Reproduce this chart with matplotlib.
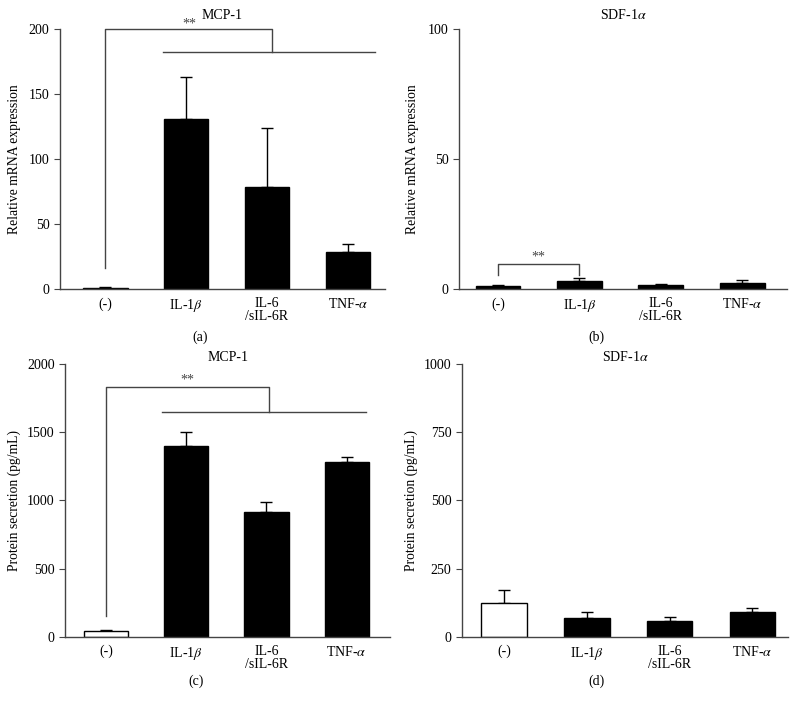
import numpy as np
import matplotlib
matplotlib.use("Agg")
import matplotlib.pyplot as plt

plt.rcParams['font.family'] = ['Liberation Serif', 'DejaVu Serif']
plt.rcParams['mathtext.fontset'] = 'stix'
plt.rcParams['font.size'] = 10

categories = ["(-)", "IL-1$\\beta$", "IL-6\n/sIL-6R", "TNF-$\\alpha$"]

# 数值
mrna_mcp1 = [1.0, 130.8, 78.7, 28.7]
mrna_mcp1_err = [0.5, 32.0, 44.9, 5.7]
mrna_sdf1 = [1.2, 3.1, 1.4, 2.2]
mrna_sdf1_err = [0.2, 1.0, 0.5, 1.1]
prot_mcp1 = [42, 1400, 913, 1285]
prot_mcp1_err = [7, 105, 78, 32]
prot_sdf1 = [122, 67, 57, 89]
prot_sdf1_err = [49, 24, 16, 15]

line_col = '#444444'


def draw_panel(ax, vals, errs, ylim, yticks, ylabel, title, first_white, xlim, lpad, tpad):
    x = np.arange(len(categories))
    colors = ['white' if (i == 0 and first_white) else 'black' for i in range(len(x))]
    ax.bar(x, vals, width=0.55, color=colors, edgecolor='black', linewidth=1.0, zorder=2)
    ax.errorbar(x, vals, yerr=[np.zeros(len(errs)), errs], fmt='none',
                ecolor='black', elinewidth=1.0, capsize=4, capthick=1.0, zorder=1)
    ax.set_ylim(*ylim)
    ax.set_xlim(*xlim)
    ax.set_yticks(yticks)
    ax.set_xticks(x)
    ax.set_xticklabels(categories, va='top', linespacing=1.0)
    ax.tick_params(axis='x', length=0, pad=6)
    ax.tick_params(axis='y', length=4, direction='out', color=line_col)
    for s in ['top', 'right']:
        ax.spines[s].set_visible(False)
    for s in ['left', 'bottom']:
        ax.spines[s].set_color(line_col)
        ax.spines[s].set_linewidth(1.0)
    ax.set_ylabel(ylabel, fontsize=9.8, labelpad=lpad)
    ax.set_title(title, fontsize=10, pad=tpad)


def bracket_group(ax, x0, ytop, y_grp, gx0, gx1, gmid, ybottom):
    kw = dict(color=line_col, lw=1.0, clip_on=False)
    ax.plot([x0, x0, gmid, gmid], [ybottom, ytop, ytop, y_grp], **kw)
    ax.plot([gx0, gx1], [y_grp, y_grp], **kw)


fig = plt.figure(figsize=(7.97, 7.09), dpi=100)

ax_a = fig.add_axes([0.0753, 0.5924, 0.4078, 0.3667])
draw_panel(ax_a, mrna_mcp1, mrna_mcp1_err, (0, 200), [0, 50, 100, 150, 200],
           'Relative mRNA expression', 'MCP-1', False, (-0.56, 3.46), 6, 7)
bracket_group(ax_a, 0, 200, 182.5, 0.71, 3.34, 2.06, 16)
ax_a.text(1.04, 199, '**', ha='center', va='bottom', fontsize=10, color=line_col)

ax_b = fig.add_axes([0.5759, 0.5924, 0.4115, 0.3667])
draw_panel(ax_b, mrna_sdf1, mrna_sdf1_err, (0, 100), [0, 50, 100],
           'Relative mRNA expression', 'SDF-1$\\alpha$', False, (-0.48, 3.55), 6, 7)
ax_b.plot([0, 0, 1, 1], [5.4, 9.5, 9.5, 5.4], color=line_col, lw=1.0)
ax_b.text(0.5, 9.6, '**', ha='center', va='bottom', fontsize=10, color=line_col)

ax_c = fig.add_axes([0.0816, 0.102, 0.4078, 0.3842])
draw_panel(ax_c, prot_mcp1, prot_mcp1_err, (0, 2000), [0, 500, 1000, 1500, 2000],
           'Protein secretion (pg/mL)', 'MCP-1', True, (-0.51, 3.54), 4, 0)
bracket_group(ax_c, 0, 1835, 1652, 0.7, 3.24, 2.03, 152)
ax_c.text(1.01, 1835, '**', ha='center', va='bottom', fontsize=10, color=line_col)

ax_d = fig.add_axes([0.5797, 0.102, 0.409, 0.3842])
draw_panel(ax_d, prot_sdf1, prot_sdf1_err, (0, 1000), [0, 250, 500, 750, 1000],
           'Protein secretion (pg/mL)', 'SDF-1$\\alpha$', True, (-0.51, 3.43), 4, 0)

fig.text(0.251, 0.5247, '(a)', ha='center', va='center', fontsize=10)
fig.text(0.748, 0.5247, '(b)', ha='center', va='center', fontsize=10)
fig.text(0.246, 0.0385, '(c)', ha='center', va='center', fontsize=10)
fig.text(0.748, 0.0385, '(d)', ha='center', va='center', fontsize=10)

fig.savefig('out.png', dpi=100)
